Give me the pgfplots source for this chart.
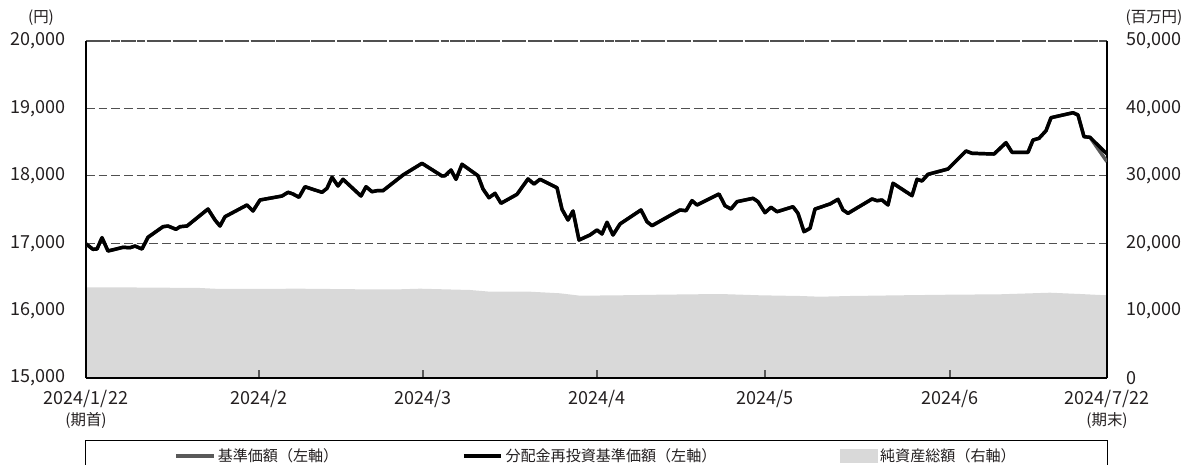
\documentclass[border=0pt]{standalone}
\usepackage{fontspec}
\setmainfont{Noto Sans CJK JP}
\usepackage{pgfplots}
\usepackage{pgfplotstable}
\pgfplotsset{compat=1.18}

\definecolor{areagray}{HTML}{D9D9D9}
\definecolor{navgray}{HTML}{595959}
\definecolor{gridgray}{HTML}{505050}
\definecolor{txt}{HTML}{231F20}

% x = position along the period (0 = 2024/1/22, 1021 = 2024/7/22)
\pgfplotstableread{
x     nav    reinv
0     16990  16990
7     16909  16909
11    16914  16914
16    17082  17082
22    16884  16884
37    16939  16939
44    16933  16933
49    16958  16958
56    16914  16914
62    17088  17088
77    17245  17245
82    17255  17255
90    17206  17206
94    17245  17245
101   17255  17255
122   17507  17507
129   17344  17344
134   17255  17255
139   17393  17393
161   17567  17567
167   17478  17478
174   17641  17641
196   17700  17700
202   17755  17755
207   17730  17730
213   17681  17681
219   17838  17838
236   17755  17755
241   17814  17814
246   17978  17978
252   17849  17849
257   17948  17948
275   17700  17700
280   17838  17838
286   17764  17764
291   17779  17779
297   17779  17779
317   18012  18012
336   18185  18185
356   17997  17997
359   18001  18001
365   18086  18086
370   17948  17948
376   18171  18171
392   18001  18001
397   17804  17804
403   17675  17675
409   17740  17740
415   17592  17592
431   17725  17725
442   17953  17953
448   17878  17878
454   17948  17948
471   17823  17823
476   17503  17503
482   17344  17344
487   17478  17478
493   17047  17047
504   17122  17122
511   17196  17196
516   17137  17137
521   17310  17310
527   17122  17122
534   17285  17285
555   17493  17493
561   17319  17319
566   17260  17260
594   17493  17493
600   17482  17482
606   17631  17631
611   17567  17567
633   17730  17730
639   17556  17556
645   17507  17507
651   17616  17616
667   17666  17666
672   17616  17616
679   17453  17453
685   17533  17533
691   17467  17467
707   17541  17541
712   17443  17443
718   17171  17171
724   17221  17221
729   17507  17507
744   17582  17582
752   17651  17651
757   17493  17493
762   17443  17443
786   17656  17656
791   17631  17631
796   17641  17641
802   17567  17567
807   17889  17889
826   17705  17705
831   17948  17948
836   17923  17923
842   18022  18022
862   18101  18101
871   18234  18234
880   18368  18368
886   18334  18334
908   18323  18323
920   18491  18491
926   18349  18349
942   18349  18349
947   18531  18531
953   18556  18556
960   18669  18669
965   18862  18862
987   18936  18936
992   18902  18902
998   18580  18580
1004  18571  18571
1021  18209  18323
}\navdata

\pgfplotstableread{
x     aum
0     13457
14    13457
60    13420
114   13353
134   13205
214   13250
274   13160
314   13160
334   13250
384   13057
404   12805
444   12805
474   12567
494   12211
534   12270
574   12360
634   12463
674   12270
714   12166
734   12062
764   12166
814   12270
864   12360
914   12418
964   12656
994   12463
1014  12315
1021  12270
}\aumdata

\begin{document}
\begin{tikzpicture}[font=\fontsize{13.5}{16}\selectfont, color=txt]
\pgfplotsset{
  base/.style={
    scale only axis, width=765.75pt, height=252.75pt,
    xmin=0, xmax=1021,
    scaled y ticks=false,
    /pgf/number format/assume math mode=true,
    major tick length=0pt,
  }
}

% 純資産総額 (right axis)
\begin{axis}[base,
  ymin=0, ymax=50000,
  axis x line=none,
  axis y line*=right,
  y axis line style={draw=none},
  ytick={0,10000,...,50000},
  ymajorgrids,
  grid style={gridgray, line width=0.8pt, dash pattern=on 6.5pt off 3pt},
  extra y ticks={50000},
  extra y tick labels={},
  extra y tick style={grid style={gridgray, line width=1.3pt, dash pattern=on 5pt off 1.5pt}},
  yticklabel style={anchor=west, inner sep=0pt},
  yticklabel shift=14.25pt,
]
\addplot[fill=areagray, draw=none] table[x=x, y=aum] {\aumdata} \closedcycle;
\end{axis}

% 基準価額 / 分配金再投資基準価額 (left axis)
\begin{axis}[base,
  ymin=15000, ymax=20000,
  axis x line*=bottom,
  axis y line*=box,
  axis line style={-, black, line width=1.1pt},
  ytick={15000,16000,...,20000},
  yticklabel pos=left,
  yticklabel style={anchor=east, inner sep=0pt},
  yticklabel shift=15pt,
  xtick={0,173,337,511,679,864,1021},
  xticklabels={{2024/1/22\\{\fontsize{11.6}{14}\selectfont(期首)}},
    2024/2, 2024/3, 2024/4, 2024/5, 2024/6,
    {2024/7/22\\{\fontsize{11.6}{14}\selectfont(期末)}}},
  xticklabel style={align=center, anchor=north, inner sep=0pt},
  xticklabel shift=9pt,
  tick align=inside,
  xtick style={navgray, line width=1pt},
  x tick style={/pgfplots/major tick length=6pt},
  legend columns=3,
  legend cell align=left,
  legend style={at={(0.5,0)}, anchor=north, yshift=-46.5pt,
    draw=black, line width=0.8pt,
    font=\fontsize{11.3}{13}\selectfont,
    inner xsep=66.5pt, inner ysep=4pt,
    /tikz/every even column/.append style={column sep=91pt}},
  legend image code/.code={\draw[#1, line width=2.4pt] (0pt,0pt) -- (28pt,0pt);},
]
\coordinate (sw) at (rel axis cs:0,0);
\coordinate (nw) at (rel axis cs:0,1);
\coordinate (ne) at (rel axis cs:1,1);
\addplot[navgray, line width=2.6pt, line join=round] table[x=x, y=nav] {\navdata};
\addlegendentry{基準価額（左軸）}
\addplot[black, line width=2.6pt, line join=round] table[x=x, y=reinv] {\navdata};
\addlegendentry{分配金再投資基準価額（左軸）}
\addlegendimage{legend image code/.code={\fill[areagray] (0pt,-4.5pt) rectangle (27pt,4.5pt);}}
\addlegendentry{純資産総額（右軸）}
\end{axis}

\node[font=\fontsize{11.6}{14}\selectfont, xshift=-33.75pt, yshift=17.25pt] at (nw) {(円)};
\node[font=\fontsize{11.6}{14}\selectfont, xshift=35.25pt, yshift=17.25pt] at (ne) {(百万円)};

\pgfresetboundingbox
\path[use as bounding box] ([shift={(-64.5pt,-64.5pt)}]sw) rectangle ([shift={(823.5pt,283.5pt)}]sw);
\end{tikzpicture}
\end{document}
